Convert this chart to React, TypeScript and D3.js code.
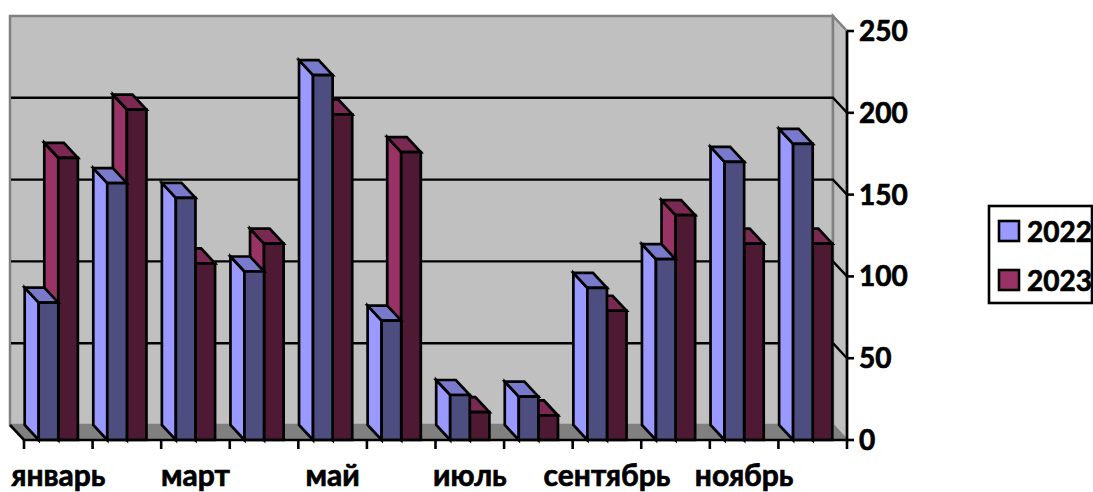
import React from "react";
import * as d3 from "d3";

const months = ["январь","февраль","март","апрель","май","июнь","июль","август","сентябрь","октябрь","ноябрь","декабрь"];
const shownMonths = ["январь","март","май","июль","сентябрь","ноябрь"];
const values2022 = [84,157,148,103,223,73,27.5,26.5,93,110.5,170,181];
const values2023 = [172.5,202,108,120,199,176,17,15,79,137.5,120,120];
const yTicks = [0,50,100,150,200,250];
const seriesNames = ["2022","2023"];

const colors: Record<string,{front:string;side:string;top:string}> = {
  "2022": { front:"#4D4D80", side:"#9999FF", top:"#7A7ACC" },
  "2023": { front:"#4D1933", side:"#993366", top:"#7A2952" },
};

const W = 1093, H = 492;
const FX0 = 24, FX1 = 847, FY0 = 440, FY1 = 31;
const DX = 14, DY = 15;
const FONT = "Lato, 'Open Sans', sans-serif";
const TEXT_STROKE = 0.7;

const x = d3.scaleBand<string>().domain(months).range([FX0, FX1]).paddingInner(0).paddingOuter(0);
const y = d3.scaleLinear().domain([0,250]).range([FY0, FY1]);
const barW = x.bandwidth() / 3.5;
const pad = barW * 0.75;
const inner = d3.scaleBand<string>().domain(seriesNames).range([pad, pad + 2 * barW]);
const poly = (pts: number[][]) => (d3.line()(pts as [number,number][]) as string) + "Z";

function Bar({ m, s, v }: { m: string; s: string; v: number }) {
  const l = (x(m) as number) + (inner(s) as number);
  const r = l + barW;
  const t = y(v), b = y(0);
  const c = colors[s];
  const st = { stroke:"#000", strokeWidth:2.7, strokeLinejoin:"miter" as const };
  return (
    <g>
      <path d={poly([[l,b],[l,t],[l-DX,t-DY],[l-DX,b-DY]])} fill={c.side} {...st} />
      <path d={poly([[l,t],[r,t],[r-DX,t-DY],[l-DX,t-DY]])} fill={c.top} {...st} />
      <path d={poly([[l,b],[r,b],[r,t],[l,t]])} fill={c.front} {...st} />
    </g>
  );
}

export default function App() {
  const backL = FX0 - DX, backR = FX1 - DX;
  return (
    <svg width={W} height={H} viewBox={`0 0 ${W} ${H}`} style={{ position:"absolute", left:0, top:0, background:"#fff" }}>
      {/* walls */}
      <path d={poly([[backL,FY1-DY],[backR,FY1-DY],[backR,FY0-DY],[backL,FY0-DY]])} fill="#C0C0C0" stroke="#808080" strokeWidth={2.5} />
      <path d={poly([[backR,FY1-DY],[FX1,FY1],[FX1,FY0],[backR,FY0-DY]])} fill="#C0C0C0" stroke="#808080" strokeWidth={2.5} />
      <path d={poly([[backL,FY0-DY],[backR,FY0-DY],[FX1,FY0],[FX0,FY0]])} fill="#808080" stroke="#808080" strokeWidth={1} />
      {/* gridlines */}
      {yTicks.filter(t => t > 0 && t < 250).map(t => (
        <path key={t} d={d3.line()([[backL+1,y(t)-DY],[backR,y(t)-DY],[FX1,y(t)]]) as string} fill="none" stroke="#000" strokeWidth={2.4} />
      ))}
      {/* bars */}
      {months.map((m,i) => (
        <g key={m}>
          <Bar m={m} s="2023" v={values2023[i]} />
          <Bar m={m} s="2022" v={values2022[i]} />
        </g>
      ))}
      {/* axes */}
      <path d={d3.line()([[backL,FY0-DY],[FX0,FY0],[FX1,FY0]]) as string} fill="none" stroke="#000" strokeWidth={2.6} />
      <line x1={FX1} x2={FX1} y1={FY1} y2={FY0+9} stroke="#000" strokeWidth={2.6} />
      {months.map(m => (
        <line key={m} x1={x(m)} x2={x(m)} y1={FY0} y2={FY0+9} stroke="#000" strokeWidth={2.6} />
      ))}
      {yTicks.map(t => (
        <g key={t}>
          <line x1={FX1} x2={FX1+7} y1={y(t)} y2={y(t)} stroke="#000" strokeWidth={2.6} />
          <text x={859} y={y(t)+10} fontFamily={FONT} fontWeight={700} fontSize={28} fill="#000" stroke="#000" strokeWidth={TEXT_STROKE}>{t}</text>
        </g>
      ))}
      {shownMonths.map(m => (
        <text key={m} x={(x(m) as number)+x.bandwidth()/2} y={486} textAnchor="middle" fontFamily={FONT} fontWeight={700} fontSize={30} fill="#000" stroke="#000" strokeWidth={TEXT_STROKE}>{m}</text>
      ))}
      {/* legend */}
      <rect x={989} y={206} width={103} height={97} fill="#fff" stroke="#000" strokeWidth={2.6} />
      {seriesNames.map((s,i) => (
        <g key={s}>
          <rect x={999} y={221+i*49} width={20} height={20} fill={colors[s].side} stroke="#000" strokeWidth={2.6} />
          <text x={1027} y={242+i*49} fontFamily={FONT} fontWeight={700} fontSize={28} fill="#000" stroke="#000" strokeWidth={TEXT_STROKE}>{s}</text>
        </g>
      ))}
    </svg>
  );
}
